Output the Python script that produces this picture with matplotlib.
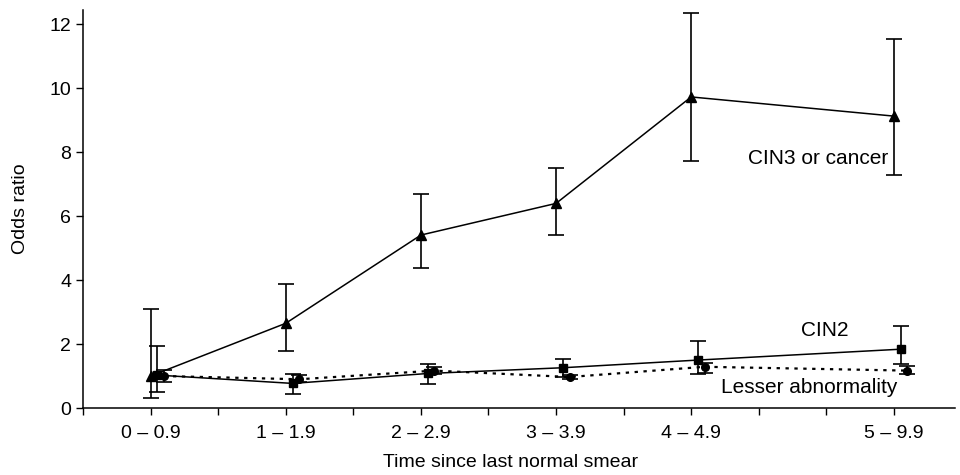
import numpy as np
import matplotlib
matplotlib.use("Agg")
import matplotlib.pyplot as plt

plt.rcParams['font.family'] = ['Liberation Sans', 'DejaVu Sans']

# interval positions on the time axis and their labels
xpos = [0.5, 1.5, 2.5, 3.5, 4.5, 6.0]
xlabels = ["0 \u2013 0.9", "1 \u2013 1.9", "2 \u2013 2.9", "3 \u2013 3.9", "4 \u2013 4.9", "5 \u2013 9.9"]

# CIN3 or cancer
cin3 = [1.0, 2.65, 5.41, 6.40, 9.73, 9.13]
cin3_lo = [0.32, 1.78, 4.38, 5.41, 7.72, 7.28]
cin3_hi = [3.09, 3.87, 6.69, 7.52, 12.35, 11.55]

# CIN2
cin2 = [1.03, 0.77, 1.08, 1.26, 1.50, 1.84]
cin2_lo = [0.51, 0.44, 0.75, 0.98, 1.05, 1.37]
cin2_hi = [1.94, 1.06, 1.37, 1.53, 2.09, 2.56]

# lesser abnormality
lesser = [1.0, 0.90, 1.17, 0.97, 1.29, 1.17]
lesser_lo = [0.80, 0.80, 1.06, 0.92, 1.10, 1.05]
lesser_hi = [1.20, 1.02, 1.27, 1.03, 1.42, 1.30]


def yerr(v, lo, hi):
    v, lo, hi = np.array(v), np.array(lo), np.array(hi)
    return [v - lo, hi - v]


fig = plt.figure(figsize=(9.6, 4.75), dpi=100)
ax = fig.add_axes([0.0865, 0.141, 0.908, 0.838])

x = np.array(xpos)
kw = dict(color="black", ecolor="black", elinewidth=1.2, capsize=6, capthick=1.2, lw=1.1)
ax.errorbar(x, cin3, yerr=yerr(cin3, cin3_lo, cin3_hi), marker="^", ms=7, ls="-", **kw)
ax.errorbar(x + 0.05, cin2, yerr=yerr(cin2, cin2_lo, cin2_hi), marker="s", ms=6, ls="-", **kw)
kw["lw"] = 1.6
ax.errorbar(x + 0.1, lesser, yerr=yerr(lesser, lesser_lo, lesser_hi), marker="o", ms=5.5,
            ls=(0, (1.5, 2.5)), **kw)

ax.text(5.44, 7.8, "CIN3 or cancer", fontsize=15, ha="center", va="center")
ax.text(5.49, 2.42, "CIN2", fontsize=15, ha="center", va="center")
ax.text(5.37, 0.64, "Lesser abnormality", fontsize=15, ha="center", va="center")

ax.set_xlim(0, 6.45)
ax.set_ylim(0, 12.45)
ticks = np.arange(0, 6.01, 0.5)
ax.set_xticks(ticks)
ax.set_xticklabels([xlabels[xpos.index(t)] if t in xpos else "" for t in ticks])
ax.set_yticks(range(0, 13, 2))
ax.tick_params(labelsize=14, direction="out", length=5, width=1)
ax.tick_params(axis="x", pad=7)

for s in ["top", "right"]:
    ax.spines[s].set_visible(False)
for s in ["left", "bottom"]:
    ax.spines[s].set_linewidth(1.1)

ax.set_ylabel("Odds ratio", fontsize=14)
ax.yaxis.set_label_coords(-0.062, 0.5)
ax.set_xlabel("Time since last normal smear", fontsize=14)
ax.xaxis.set_label_coords(0.49, -0.116)

fig.savefig("out.png", dpi=100)
